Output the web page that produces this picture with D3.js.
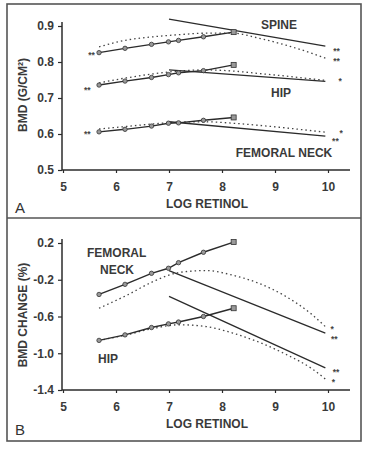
<!DOCTYPE html>
<html><head><meta charset="utf-8">
<script src="https://cdn.jsdelivr.net/npm/d3@7"></script>
<style>body{margin:0;background:#fff}svg{display:block}text{font-family:"Liberation Sans",Arial,sans-serif;}</style>
</head><body><div id="chart"></div>
<script>
// ---------- DATA ----------
const xTicks = [5, 6, 7, 8, 9, 10];
const yTicksA = [0.5, 0.6, 0.7, 0.8, 0.9];
const yTicksB = [-1.4, -1.0, -0.6, -0.2, 0.2];
const yTickLabelsB = ["-1.4", "-1.0", "-0.6", "-0.2", "0.2"];

// quantile means (solid line with markers)
const quantX = [5.68, 6.17, 6.67, 6.99, 7.18, 7.65, 8.22];
const spineMean = [0.826, 0.838, 0.849, 0.856, 0.860, 0.870, 0.883];
const hipMean = [0.736, 0.747, 0.757, 0.765, 0.770, 0.776, 0.792];
const fnMean = [0.606, 0.613, 0.622, 0.630, 0.631, 0.638, 0.646];
const fnChange = [-0.36, -0.25, -0.13, -0.075, -0.014, 0.099, 0.21];
const hipChange = [-0.86, -0.80, -0.72, -0.68, -0.66, -0.60, -0.51];

// linear fit above threshold (solid straight line)
const fitX = [7.0, 9.95];
const spineFit = [0.919, 0.844];
const hipFit = [0.778, 0.746];
const fnFit = [0.634, 0.594];
const fnChangeFit = [-0.10, -0.78];
const hipChangeFit = [-0.38, -1.16];

// smoothed curves (dotted)
const curveX = [5.68, 6.2, 6.7, 7.2, 7.7, 8.2, 8.7, 9.2, 9.7, 9.95];
const spineCurve = [0.842, 0.861, 0.870, 0.876, 0.880, 0.880, 0.866, 0.847, 0.824, 0.811];
const hipCurve = [0.742, 0.756, 0.767, 0.775, 0.778, 0.775, 0.768, 0.761, 0.753, 0.749];
const fnCurve = [0.614, 0.621, 0.628, 0.633, 0.634, 0.630, 0.624, 0.617, 0.609, 0.605];
const fnChangeCurve = [-0.51, -0.37, -0.22, -0.12, -0.10, -0.15, -0.24, -0.38, -0.58, -0.71];
const hipChangeCurve = [-0.86, -0.80, -0.73, -0.69, -0.71, -0.78, -0.88, -1.01, -1.17, -1.28];

// significance marks: [x, y, text]
const sigA = [[5.54, 0.824, "**"], [10.16, 0.835, "**"], [10.16, 0.806, "**"],
              [5.46, 0.727, "**"], [10.23, 0.751, "*"],
              [5.46, 0.603, "**"], [10.25, 0.607, "*"], [10.14, 0.585, "**"]];
const sigB = [[10.08, -0.72, "*"], [10.12, -0.83, "**"], [10.15, -1.19, "**"], [10.1, -1.30, "*"]];

const siteLabelsA = ["SPINE", "HIP", "FEMORAL NECK"];
const siteLabelsB = ["FEMORAL", "NECK", "HIP"];
const xTitle = "LOG RETINOL";
const yTitleA = "BMD (G/CM²)";
const yTitleB = "BMD CHANGE (%)";

// ---------- DRAW ----------
const W = 378, H = 449;
const ink = "#2b2b2b";
const svg = d3.select("#chart").append("svg").attr("width", W).attr("height", H);
svg.append("rect").attr("width", W).attr("height", H).attr("fill", "#fff");

// frame
svg.append("rect").attr("x", 7).attr("y", 4).attr("width", 354).attr("height", 437)
  .attr("fill", "none").attr("stroke", "#555").attr("stroke-width", 1.6);
svg.append("line").attr("x1", 7).attr("x2", 361).attr("y1", 218).attr("y2", 218)
  .attr("stroke", "#555").attr("stroke-width", 1.6);

const x = d3.scaleLinear().domain([5, 10]).range([63, 328]);
const yA = d3.scaleLinear().domain([0.5, 0.9]).range([170, 26]);
const yB = d3.scaleLinear().domain([-1.4, 0.2]).range([390, 243]);

function panel(y, yTicks, yFmt, yTitle, letter, yTitleCy, xAxisY, letterY) {
  const g = svg.append("g");
  const ya = g.append("g").attr("transform", "translate(62,0)")
    .call(d3.axisLeft(y).tickValues(yTicks).tickFormat(yFmt).tickSize(4).tickPadding(4));
  ya.select(".domain").remove();
  g.append("line").attr("x1", 62).attr("x2", 62).attr("y1", y.range()[1] - 4).attr("y2", y.range()[0])
    .attr("stroke", ink).attr("stroke-width", 1.5);
  const xa = g.append("g").attr("transform", `translate(0,${xAxisY})`)
    .call(d3.axisBottom(x).tickValues(xTicks).tickFormat(d3.format("d")).tickSize(3).tickPadding(9));
  xa.select(".domain").remove();
  g.append("line").attr("x1", 62).attr("x2", 350).attr("y1", xAxisY).attr("y2", xAxisY)
    .attr("stroke", ink).attr("stroke-width", 1.6);
  g.selectAll(".tick line").attr("stroke", ink).attr("stroke-width", 1.2);
  g.selectAll(".tick text").attr("fill", "#3a3a3a").attr("font-size", 12).attr("font-weight", "bold")
    .attr("font-family", "'Liberation Sans',Arial,sans-serif");
  g.append("text").attr("x", 207).attr("y", xAxisY + 38).attr("text-anchor", "middle")
    .attr("font-size", 12).attr("font-weight", "bold").attr("fill", "#3a3a3a").text(xTitle);
  g.append("text").attr("transform", `translate(27,${yTitleCy}) rotate(-90)`).attr("text-anchor", "middle")
    .attr("font-size", 12).attr("font-weight", "bold").attr("fill", "#3a3a3a").text(yTitle);
  g.append("text").attr("x", 15).attr("y", letterY).attr("font-size", 15).attr("fill", "#333").text(letter);
  return g;
}

const gA = panel(yA, yTicksA, d3.format(".1f"), yTitleA, "A", 95, 170, 213);
const gB = panel(yB, yTicksB, (d, i) => yTickLabelsB[i], yTitleB, "B", 315, 390, 435);

function series(g, y, qy, fy, cy) {
  const line = d3.line().x(d => x(d[0])).y(d => y(d[1]));
  const curve = d3.line().x(d => x(d[0])).y(d => y(d[1])).curve(d3.curveMonotoneX);
  g.append("path").attr("d", curve(curveX.map((v, i) => [v, cy[i]])))
    .attr("fill", "none").attr("stroke", "#444").attr("stroke-width", 1.3).attr("stroke-dasharray", "1.5,3");
  g.append("path").attr("d", line(fitX.map((v, i) => [v, fy[i]])))
    .attr("fill", "none").attr("stroke", ink).attr("stroke-width", 1.3);
  g.append("path").attr("d", line(quantX.map((v, i) => [v, qy[i]])))
    .attr("fill", "none").attr("stroke", ink).attr("stroke-width", 1.4);
  quantX.forEach((v, i) => {
    if (i === quantX.length - 1) {
      g.append("rect").attr("x", x(v) - 2.5).attr("y", y(qy[i]) - 2.5).attr("width", 5).attr("height", 5)
        .attr("fill", "#999").attr("stroke", "#333").attr("stroke-width", 0.8);
    } else {
      g.append("circle").attr("cx", x(v)).attr("cy", y(qy[i])).attr("r", 2.2)
        .attr("fill", "#999").attr("stroke", "#333").attr("stroke-width", 0.8);
    }
  });
}

series(gA, yA, spineMean, spineFit, spineCurve);
series(gA, yA, hipMean, hipFit, hipCurve);
series(gA, yA, fnMean, fnFit, fnCurve);
series(gB, yB, fnChange, fnChangeFit, fnChangeCurve);
series(gB, yB, hipChange, hipChangeFit, hipChangeCurve);

function sig(g, y, arr) {
  arr.forEach(d => g.append("text").attr("x", x(d[0])).attr("y", y(d[1]) + 4.5).attr("text-anchor", "middle")
    .attr("font-size", 8.5).attr("font-weight", "bold").attr("fill", "#444").text(d[2]));
}
sig(gA, yA, sigA);
sig(gB, yB, sigB);

function label(g, t, px, py, anchor) {
  g.append("text").attr("x", px).attr("y", py).attr("text-anchor", anchor || "middle")
    .attr("font-size", 12).attr("fill", "#3a3a3a").attr("font-weight", "bold").text(t);
}
label(gA, siteLabelsA[0], 279, 29);
label(gA, siteLabelsA[1], 281, 97);
label(gA, siteLabelsA[2], 284, 157);
label(gB, siteLabelsB[0], 87, 257, "start");
label(gB, siteLabelsB[1], 100, 274, "start");
label(gB, siteLabelsB[2], 98, 363, "start");
</script></body></html>
